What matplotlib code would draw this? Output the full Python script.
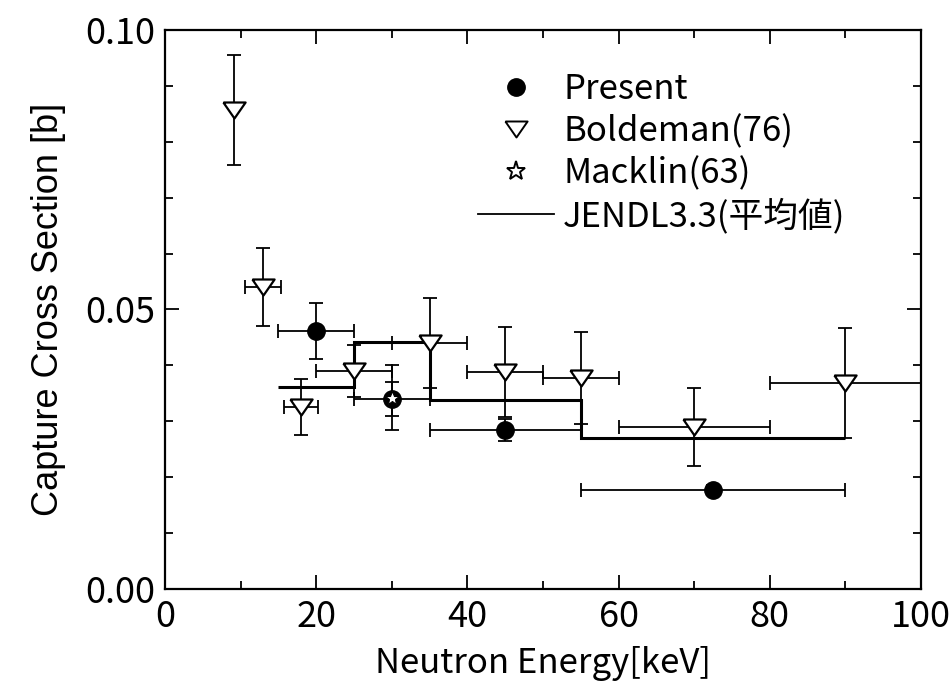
import numpy as np
import matplotlib.pyplot as plt
from matplotlib.lines import Line2D

# present measurement
pres_e = [20, 30, 45, 72.5]
pres_de = [5, 5, 10, 17.5]
pres_cs = [0.0462, 0.0340, 0.0285, 0.0178]
pres_dcs = [0.0050, 0.0030, 0.0020, 0.0008]

# Boldeman (76)
bold_e = [9.1, 13.0, 18.0, 25, 35, 45, 55, 70, 90]
bold_de = [0.0, 2.4, 2.3, 5, 5, 5, 5, 10, 10]
bold_cs = [0.0857, 0.0540, 0.0325, 0.0390, 0.0440, 0.0388, 0.0377, 0.0290, 0.0368]
bold_dcs = [0.0098, 0.0070, 0.0050, 0.0046, 0.0080, 0.0080, 0.0082, 0.0070, 0.0098]

# Macklin (63)
mack_e = [30]
mack_cs = [0.0342]
mack_dcs = [0.0058]

# JENDL-3.3 group averages
jendl_edges = [15, 25, 35, 55, 90]
jendl_cs = [0.0362, 0.0442, 0.0338, 0.0270]

narrow = ['Noto Sans CJK JP', 'DejaVu Sans']

fig = plt.figure(figsize=(9.51, 6.96), dpi=100)
ax = fig.add_axes([0.1735, 0.1537, 0.795, 0.8033])

# flattened open triangle, pointing down
tri = [(-1, 0.72), (1, 0.72), (0, -0.72), (-1, 0.72)]

ax.stairs(jendl_cs, jendl_edges, color='black', lw=2.2, baseline=None, zorder=2)

ax.errorbar(bold_e, bold_cs, xerr=bold_de, yerr=bold_dcs, fmt='none',
            ecolor='black', elinewidth=1.3, capsize=4.7, capthick=1.3, zorder=3)
ax.plot(bold_e, bold_cs, ls='none', marker=tri, ms=16, mfc='white',
        mec='black', mew=1.6, zorder=4)

ax.errorbar(mack_e, mack_cs, yerr=mack_dcs, fmt='none', ecolor='black',
            elinewidth=1.3, capsize=4.7, capthick=1.3, zorder=3)

ax.errorbar(pres_e, pres_cs, xerr=pres_de, yerr=pres_dcs, fmt='o', ms=12.5,
            mfc='black', mec='black', ecolor='black', elinewidth=1.3,
            capsize=4.7, capthick=1.3, zorder=5)

ax.plot(mack_e, mack_cs, ls='none', marker='*', ms=10, mfc='white',
        mec='black', mew=0.8, zorder=6)

ax.set_xlim(0, 100)
ax.set_ylim(0, 0.10)
ax.set_xticks([0, 20, 40, 60, 80, 100])
ax.set_xticks(np.arange(10, 100, 20), minor=True)
ax.set_yticks([0.0, 0.05, 0.10])
ax.set_yticks(np.arange(0.01, 0.1, 0.01), minor=True)
ax.set_yticklabels(['0.00', '0.05', '0.10'])
ax.tick_params(which='both', direction='in', top=True, right=True, width=1.3)
ax.tick_params(which='major', length=10, labelsize=26, pad=7)
ax.tick_params(which='minor', length=6)
for lab in ax.get_xticklabels() + ax.get_yticklabels():
    lab.set_family(narrow)
for s in ax.spines.values():
    s.set_linewidth(1.6)

ax.set_xlabel('Neutron Energy[keV]', fontsize=25, family=narrow, labelpad=8)
ax.set_ylabel('Capture Cross Section [b]', fontsize=26, family='Liberation Sans', labelpad=14)

handles = [
    Line2D([], [], ls='none', marker='o', ms=12.5, mfc='black', mec='black'),
    Line2D([], [], ls='none', marker=tri, ms=16, mfc='white', mec='black', mew=1.4),
    Line2D([], [], ls='none', marker='*', ms=14, mfc='white', mec='black', mew=1.4),
    Line2D([], [], color='black', lw=1.3),
]
labels = ['Present', 'Boldeman(76)', 'Macklin(63)', 'JENDL3.3(平均値)']
ax.legend(handles, labels, loc='upper left', bbox_to_anchor=(0.391, 0.955),
          frameon=False, borderpad=0, handlelength=2.2, handletextpad=0.25,
          labelspacing=0.2, prop={'family': narrow, 'size': 25})

fig.savefig('out.png', dpi=100)
